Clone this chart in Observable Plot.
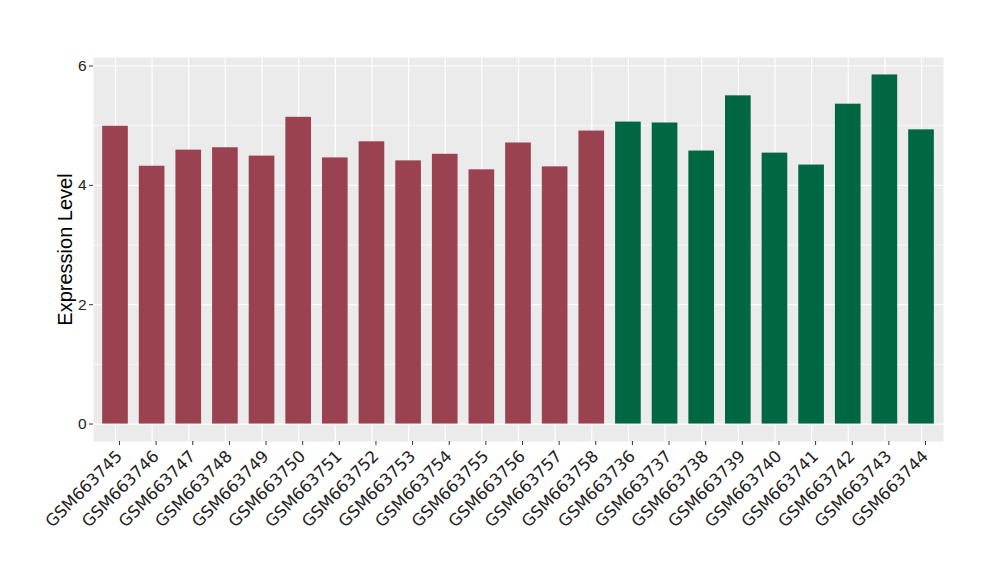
<!DOCTYPE html>
<html>
<head>
<meta charset="utf-8">
<script src="https://cdn.jsdelivr.net/npm/d3@7"></script>
<script src="https://cdn.jsdelivr.net/npm/@observablehq/plot@0.6"></script>
<style>
  html, body { margin: 0; padding: 0; background: #fff; }
  #chart svg { display: block; }
</style>
</head>
<body>
<div id="chart"></div>
<script>
const samples = ["GSM663745","GSM663746","GSM663747","GSM663748","GSM663749","GSM663750","GSM663751","GSM663752","GSM663753","GSM663754","GSM663755","GSM663756","GSM663757","GSM663758","GSM663736","GSM663737","GSM663738","GSM663739","GSM663740","GSM663741","GSM663742","GSM663743","GSM663744"];
const values = [4.99,4.32,4.59,4.63,4.49,5.14,4.46,4.73,4.41,4.52,4.26,4.71,4.31,4.91,5.06,5.045,4.575,5.50,4.54,4.34,5.36,5.85,4.93];
const groups = ["A","A","A","A","A","A","A","A","A","A","A","A","A","A","B","B","B","B","B","B","B","B","B"];
const yTicks = [0,2,4,6];
const yMinor = [1,3,5];
const groupColors = {A: "#9A4250", B: "#006743"};

const data = samples.map((s, i) => ({sample: s, value: values[i], group: groups[i]}));
const ymax = d3.max(values);
const pad = ymax * 0.05;

const chart = Plot.plot({
  width: 1000,
  height: 580,
  marginLeft: 93,
  marginRight: 57,
  marginTop: 57,
  marginBottom: 139,
  style: {fontFamily: "'Liberation Sans', Arial, sans-serif", background: "#fff"},
  x: {domain: samples, paddingInner: 0.3, paddingOuter: 0.25, align: 0.5, round: false},
  y: {domain: [-pad, ymax + pad]},
  marks: [
    Plot.frame({fill: "#EBEBEB", stroke: null}),
    Plot.ruleY(yMinor, {stroke: "#fff", strokeWidth: 0.6}),
    Plot.ruleY(yTicks, {stroke: "#fff", strokeWidth: 1.2}),
    Plot.gridX({stroke: "#fff", strokeOpacity: 1, strokeWidth: 1.2}),
    Plot.barY(data, {x: "sample", y: "value", fill: d => groupColors[d.group]}),
    Plot.axisY({ticks: yTicks, tickFormat: d => String(d), tickSize: 4, tickPadding: 3, fontSize: 15.5, fill: "#222", stroke: "#333", label: null, fontFamily: "'Liberation Sans', Arial, sans-serif"}),
    Plot.axisY({ticks: [], tickSize: 0, label: "Expression Level", labelAnchor: "center", labelArrow: "none", labelOffset: 36, fontSize: 20, fill: "#000", fontFamily: "'Liberation Sans', Arial, sans-serif"}),
    Plot.axisX({tickSize: 4, tickPadding: 8, tickRotate: -45, fontSize: 16.5, fill: "#222", stroke: "#333", label: null, dx: 4, fontFamily: "'DejaVu Sans', sans-serif"})
  ]
});
document.getElementById("chart").appendChild(chart);
</script>
</body>
</html>
